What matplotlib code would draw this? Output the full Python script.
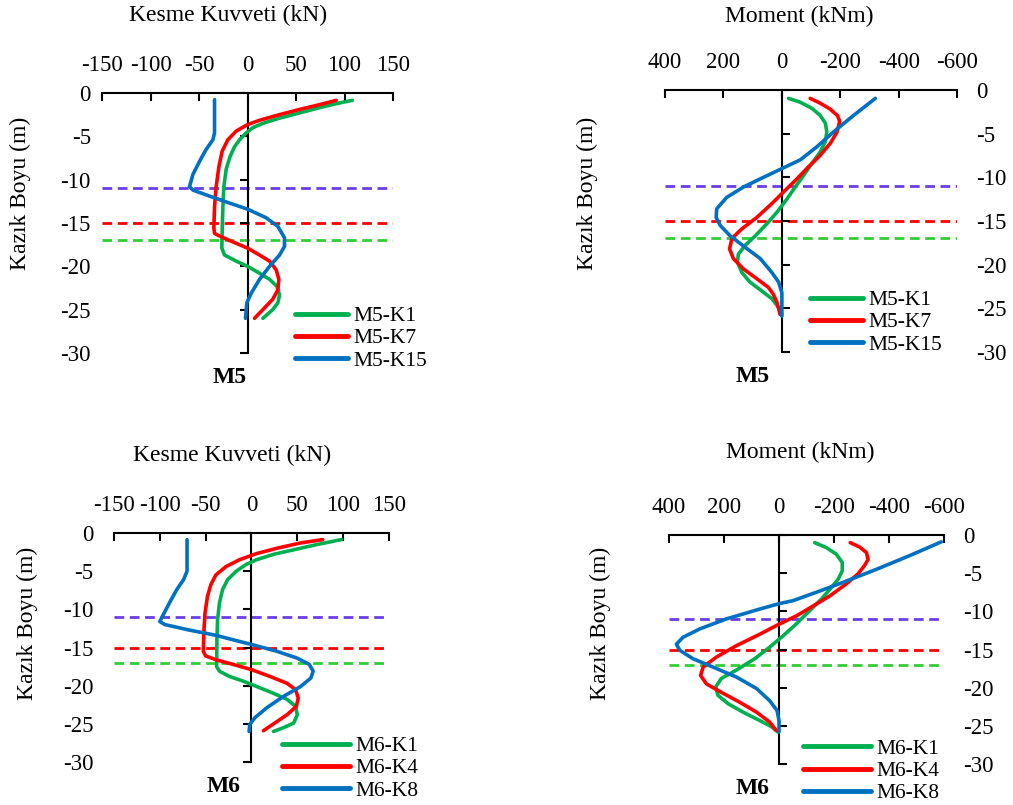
import numpy as np
import matplotlib
matplotlib.use('Agg')
import matplotlib.pyplot as plt

plt.rcParams['font.family'] = ['Liberation Serif', 'DejaVu Serif']
plt.rcParams['axes.unicode_minus'] = False

# ---- data ----
# M5 shear (kN)
d_v5_k1 = [-0.85, -1.15, -1.7, -2.3, -2.9, -3.5, -4.0, -4.6, -5.4, -6.2, -7.3, -8.8, -10.8, -13.1, -15.8,
           -17.9, -18.7, -19.4, -20.0, -20.8, -21.5, -22.3, -23.3, -24.2, -25.0, -26.0]
v5_k1 = [108, 94.8, 74, 53.6, 33, 15.8, 5.5, -1.4, -8.2, -13.4, -17.9, -22, -24.4, -25.4, -26.1,
         -26.5, -23.7, -11.7, 0, 12.4, 22.7, 30.2, 33, 31.3, 26, 15.8]
d_v5_k7 = [-0.85, -1.35, -1.9, -2.5, -3.15, -3.65, -4.4, -5.4, -6.7, -8.5, -10.8, -13.1, -15.6, -16.2,
           -16.5, -17.1, -17.9, -18.7, -19.4, -20.4, -21.5, -22.7, -23.8, -24.8, -26.0]
v5_k7 = [91.4, 74.2, 53.6, 33, 12.4, 0, -11.7, -20.3, -26.1, -29.5, -32.3, -34, -34.7, -34,
         -28.9, -16.8, 0, 12.4, 22.7, 29.5, 32.3, 31.3, 26, 17.5, 7.2]
d_v5_k15 = [-0.77, -4.6, -5.4, -6.5, -7.9, -9.4, -10.8, -11.2, -11.9, -12.7, -13.4, -14.4, -15.4, -16.7,
            -17.7, -18.7, -20.0, -21.5, -23.1, -24.2, -26.0]
v5_k15 = [-34, -34, -35.7, -42.6, -49.5, -56.3, -59.8, -56.3, -39.2, -18.6, 0, 19.2, 31.3, 38.1,
          38.1, 33, 22.7, 12.4, 3.8, -0.7, -2.1]

# M5 moment (kNm)
d_m5_k1 = [-0.96, -1.4, -2.1, -2.9, -3.8, -4.8, -5.9, -7.1, -8.4, -9.8, -11.1, -12.5, -14.0, -15.3,
           -16.7, -17.8, -18.8, -19.7, -20.9, -22.0, -23.0, -23.9, -24.9, -25.7]
m5_k1 = [-23, -63, -103, -131, -149, -154, -149, -131, -103, -74, -46, -17, 17, 51,
         91, 126, 149, 152, 137, 109, 69, 34, 11, 0]
d_m5_k7 = [-0.96, -1.5, -2.2, -2.95, -3.6, -4.8, -6.1, -7.5, -8.8, -10.2, -11.5, -13.0, -14.6, -15.9,
           -17.0, -18.2, -19.3, -20.5, -21.6, -22.6, -23.4, -24.3, -25.7]
m5_k7 = [-97, -131, -166, -191, -198, -189, -166, -131, -91, -51, -11, 34, 86, 137,
         171, 179, 166, 131, 86, 46, 29, 17, 6]
d_m5_k15 = [-0.96, -2.9, -4.8, -6.5, -8.0, -9.0, -10.0, -11.1, -12.3, -13.6, -14.6, -15.5, -16.7, -18.0,
            -19.3, -20.9, -22.0, -23.2, -25.9]
m5_k15 = [-320, -246, -177, -120, -63, 0, 63, 131, 189, 223, 225, 211, 177, 126,
          74, 34, 11, 0, 0]

# M6 shear (kN)
d_v6_k1 = [-0.87, -1.5, -2.2, -2.8, -3.5, -4.1, -5.0, -6.1, -7.4, -9.2, -11.4, -14.0, -17.5, -18.1,
           -18.8, -19.4, -20.1, -21.0, -21.8, -22.7, -23.8, -24.9, -25.5, -26.0]
v6_k1 = [98, 72, 46, 24, 5.5, -5.5, -16.6, -25.9, -31.5, -35, -37, -37.7, -38, -35,
         -24, -9.2, 5.5, 24, 38.9, 48, 50, 46, 35, 24]
d_v6_k4 = [-0.87, -1.3, -2.0, -2.7, -3.5, -4.4, -5.5, -6.8, -8.3, -10.5, -12.7, -15.5, -16.1, -16.6,
           -17.2, -17.9, -18.8, -19.7, -20.5, -21.6, -22.7, -23.8, -24.7, -25.9]
v6_k4 = [77.7, 53.7, 27.8, 5.5, -13, -27.8, -38.9, -44.4, -48, -50.7, -51.8, -52.5, -50, -38.9,
         -20.4, 0, 20.4, 38.9, 48, 51, 49, 38.9, 27.8, 13]
d_v6_k8 = [-0.87, -5.0, -6.1, -7.4, -9.0, -10.7, -11.6, -12.0, -12.7, -13.4, -14.1, -14.6, -15.5, -16.4,
           -17.2, -18.1, -19.0, -20.1, -21.4, -22.9, -24.2, -25.1, -26.0]
v6_k8 = [-70.3, -70.3, -74, -81.4, -88.8, -96.2, -100, -94.4, -68.5, -38.9, -16.6, 0, 27.8, 50,
         62.9, 67.3, 64.8, 53.7, 35, 16.6, 3.7, -1.9, -2.6]

# M6 moment (kNm)
d_m6_k1 = [-1.0, -1.65, -2.5, -3.6, -4.7, -5.8, -6.9, -8.4, -9.9, -11.65, -13.2, -14.7, -16.2, -17.7,
           -18.8, -19.9, -21.0, -22.1, -23.2, -24.3, -25.1, -25.8]
m6_k1 = [-130, -172, -208, -230, -230, -215, -190, -154, -112, -63, -15, 34, 88, 155,
         210, 230, 222, 185, 131, 70, 28, 4]
d_m6_k4 = [-1.0, -1.57, -2.3, -3.2, -4.0, -5.1, -6.4, -8.0, -9.3, -10.6, -11.65, -13.0, -14.5, -16.0,
           -17.3, -18.4, -19.5, -20.6, -21.9, -23.2, -24.5, -25.6]
m6_k4 = [-259, -293, -318, -324, -311, -287, -245, -184, -124, -63, -2, 70, 155, 228,
         276, 285, 264, 210, 143, 82, 34, 10]
d_m6_k8 = [-0.9, -2.7, -4.5, -6.2, -7.5, -8.6, -9.0, -9.7, -11.0, -12.3, -13.4, -14.3, -15.1, -16.2,
           -17.3, -18.6, -20.1, -21.7, -23.0, -24.3, -25.8]
m6_k8 = [-590, -475, -354, -233, -136, -51, 0, 70, 192, 288, 349, 373, 361, 313,
         240, 155, 82, 34, 7, 0, 0]

layer_depths = [-11, -15, -17]
layer_colors = ['#6a3de8', '#ff0000', '#33cc33']
curve_colors = ['#00b050', '#ff0000', '#0070c0']
depth_ticks = [0, -5, -10, -15, -20, -25, -30]
shear_ticks = [-150, -100, -50, 0, 50, 100, 150]
moment_ticks = [400, 200, 0, -200, -400, -600]

fig = plt.figure(figsize=(10.13, 8.05), dpi=100)


def panel(rect, xlim, xticks, title, title_xy, ylab_xy, ylabel_side, ylab_pad, tag, tag_xy,
          curves, labels, leg_xy, handlelen):
    ax = fig.add_axes(rect)
    ax.set_xlim(*xlim)
    ax.set_ylim(-30, 0)
    for d, c in zip(layer_depths, layer_colors):
        ax.axhline(d, color=c, ls=(0, (3.5, 2)), lw=2, zorder=1)
    for (dep, val), col, lab in zip(curves, curve_colors, labels):
        ax.plot(val, dep, color=col, lw=2.6, label=lab, zorder=3,
                solid_joinstyle='round', solid_capstyle='round')

    ax.spines['right'].set_visible(False)
    ax.spines['bottom'].set_visible(False)
    ax.spines['left'].set_position(('data', 0))
    ax.spines['left'].set_linewidth(1.5)
    ax.spines['top'].set_linewidth(1.5)
    ax.xaxis.tick_top()
    ax.set_xticks(xticks)
    ax.set_yticks(depth_ticks)
    ax.tick_params(axis='x', direction='in', length=6, width=1.5, pad=12, labelsize=16.5)
    ax.tick_params(axis='y', direction='out' if ylabel_side == 'left' else 'in',
                   length=6, width=1.5, labelleft=False)

    sec = ax.secondary_yaxis(ylabel_side)
    sec.set_yticks(depth_ticks)
    for s in sec.spines.values():
        s.set_visible(False)
    sec.tick_params(length=0, labelsize=16.5, pad=ylab_pad)

    ax.text(title_xy[0], title_xy[1], title, transform=ax.transAxes,
            ha='center', va='center', fontsize=17)
    ax.text(ylab_xy[0], ylab_xy[1], 'Kazık Boyu (m)', transform=ax.transAxes,
            ha='center', va='center', rotation=90, fontsize=17)
    ax.text(tag_xy[0], tag_xy[1], tag, transform=ax.transAxes,
            ha='center', va='center', fontsize=17, fontweight='bold')
    leg = ax.legend(loc='upper left', bbox_to_anchor=leg_xy, frameon=False, fontsize=15.5,
                    borderpad=0, borderaxespad=0, labelspacing=0.1, handlelength=handlelen,
                    handletextpad=0.25)
    for h in leg.legend_handles:
        h.set_linewidth(3.5)
    return ax


panel([0.1007, 0.5615, 0.2873, 0.323], (-150, 150), shear_ticks, 'Kesme Kuvveti (kN)',
      (0.433, 1.30), (-0.282, 0.615), 'left', 8, 'M5', (0.44, -0.096),
      [(d_v5_k1, v5_k1), (d_v5_k7, v5_k7), (d_v5_k15, v5_k15)],
      ['M5-K1', 'M5-K7', 'M5-K15'], (0.663, 0.18), 2.45)

panel([0.6565, 0.5627, 0.2883, 0.3255], (400, -600), moment_ticks, 'Moment (kNm)',
      (0.46, 1.279), (-0.267, 0.607), 'right', 14, 'M5', (0.30, -0.095),
      [(d_m5_k1, m5_k1), (d_m5_k7, m5_k7), (d_m5_k15, m5_k15)],
      ['M5-K1', 'M5-K7', 'M5-K15'], (0.497, 0.236), 2.45)

panel([0.1125, 0.0534, 0.2715, 0.2845], (-150, 150), shear_ticks, 'Kesme Kuvveti (kN)',
      (0.43, 1.34), (-0.316, 0.607), 'left', 15, 'M6', (0.40, -0.109),
      [(d_v6_k1, v6_k1), (d_v6_k4, v6_k4), (d_v6_k8, v6_k8)],
      ['M6-K1', 'M6-K4', 'M6-K8'], (0.611, 0.113), 3.16)

panel([0.6604, 0.0509, 0.2715, 0.2845], (400, -600), moment_ticks, 'Moment (kNm)',
      (0.476, 1.362), (-0.251, 0.616), 'right', 14, 'M6', (0.305, -0.105),
      [(d_m6_k1, m6_k1), (d_m6_k4, m6_k4), (d_m6_k8, m6_k8)],
      ['M6-K1', 'M6-K4', 'M6-K8'], (0.487, 0.11), 3.16)

fig.savefig('out.png', dpi=100)
